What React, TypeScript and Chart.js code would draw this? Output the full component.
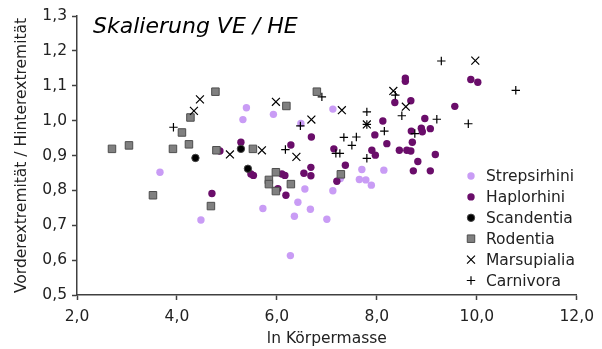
import React, { useEffect, useRef } from 'react';
import { Chart, registerables } from 'chart.js';

Chart.register(...registerables);

const FONT = '"DejaVu Sans", Verdana, sans-serif';

// [ln Körpermasse, VE/HE]
const strepsirhini: [number, number][] = [
  [3.66, 0.852], [4.48, 0.715], [5.39, 1.037], [5.32, 1.003], [5.93, 1.018], [6.48, 0.992],
  [7.12, 1.033], [5.72, 0.748], [6.35, 0.726], [6.27, 0.613], [6.42, 0.766], [6.67, 0.746],
  [6.56, 0.804], [7.0, 0.717], [7.12, 0.799], [7.27, 0.834], [7.7, 0.86], [7.65, 0.831],
  [7.78, 0.83], [7.89, 0.815], [8.14, 0.858],
];
const haplorhini: [number, number][] = [
  [5.28, 0.938], [4.86, 0.913], [4.7, 0.791], [5.48, 0.847], [5.53, 0.843], [6.28, 0.93],
  [6.69, 0.953], [6.1, 0.847], [6.16, 0.843], [6.02, 0.805], [6.18, 0.786], [6.54, 0.849],
  [6.68, 0.866], [6.68, 0.842], [7.14, 0.919], [7.37, 0.872], [7.2, 0.826], [7.96, 0.959],
  [8.12, 0.999], [7.9, 0.915], [7.97, 0.901], [8.2, 0.934], [8.45, 0.915], [8.6, 0.915],
  [8.68, 0.913], [8.36, 1.052], [8.57, 1.113], [8.57, 1.122], [8.68, 1.057], [8.96, 1.006],
  [9.56, 1.041], [9.88, 1.118], [10.02, 1.11], [8.69, 0.97], [8.89, 0.978], [8.91, 0.968],
  [9.07, 0.977], [8.71, 0.938], [9.17, 0.903], [8.82, 0.883], [8.73, 0.856], [9.07, 0.856],
];
const scandentia: [number, number][] = [
  [4.37, 0.893], [5.28, 0.919], [5.42, 0.862],
];
const rodentia: [number, number][] = [
  [2.7, 0.919], [3.04, 0.929], [3.92, 0.919], [4.1, 0.966], [4.24, 0.932], [4.27, 1.009],
  [4.77, 1.083], [4.79, 0.915], [3.52, 0.786], [4.68, 0.755], [5.52, 0.919], [6.19, 1.042],
  [6.8, 1.083], [5.98, 0.852], [5.84, 0.83], [5.84, 0.818], [5.98, 0.798], [6.28, 0.818],
  [7.28, 0.846],
];
const marsupialia: [number, number][] = [
  [4.46, 1.061], [4.34, 1.028], [5.06, 0.903], [5.7, 0.915], [5.98, 1.054], [6.69, 1.003],
  [6.39, 0.896], [7.3, 1.03], [7.8, 0.989], [8.33, 1.085], [8.58, 1.04], [9.97, 1.172],
];
const carnivora: [number, number][] = [
  [3.93, 0.981], [6.17, 0.917], [6.47, 0.985], [6.9, 1.068], [7.34, 0.952], [7.59, 0.953],
  [7.5, 0.929], [7.18, 0.906], [7.26, 0.906], [7.8, 1.025], [8.15, 0.97], [7.8, 0.892],
  [8.37, 1.073], [8.5, 1.014], [9.29, 1.171], [10.78, 1.087], [9.2, 1.004], [9.83, 0.991],
  [8.76, 0.963], [7.8, 0.989],
];

const seriesNames = ['Strepsirhini', 'Haplorhini', 'Scandentia', 'Rodentia', 'Marsupialia', 'Carnivora'];
const seriesData = [strepsirhini, haplorhini, scandentia, rodentia, marsupialia, carnivora];

const chartTitle = 'Skalierung VE / HE';
const xTitle = 'ln Körpermasse';
const yTitle = 'Vorderextremität / Hinterextremität';
const xMin = 2, xMax = 12, xStep = 2;
const yMin = 0.5, yMax = 1.3, yStep = 0.1;

type MStyle = { pointStyle: string; radius: number; bg: string; border: string; bw: number };
const markerStyles: MStyle[] = [
  { pointStyle: 'circle', radius: 3.7, bg: '#c99cf5', border: '#c99cf5', bw: 0 },
  { pointStyle: 'circle', radius: 3.7, bg: '#6a0d6a', border: '#6a0d6a', bw: 0 },
  { pointStyle: 'circle', radius: 3.7, bg: '#000000', border: '#444444', bw: 1 },
  { pointStyle: 'rect', radius: 5.3, bg: '#808080', border: '#4d4d4d', bw: 1 },
  { pointStyle: 'crossRot', radius: 5.6, bg: '#000000', border: '#000000', bw: 1.2 },
  { pointStyle: 'cross', radius: 4.2, bg: '#000000', border: '#000000', bw: 1.2 },
];

function drawMarker(ctx: CanvasRenderingContext2D, s: MStyle, x: number, y: number) {
  ctx.save();
  ctx.fillStyle = s.bg;
  ctx.strokeStyle = s.border;
  ctx.lineWidth = s.bw || 1;
  const r = s.radius;
  ctx.beginPath();
  if (s.pointStyle === 'circle') {
    ctx.arc(x, y, r, 0, Math.PI * 2);
    ctx.fill();
    if (s.bw) ctx.stroke();
  } else if (s.pointStyle === 'rect') {
    const h = r * Math.SQRT1_2;
    ctx.rect(x - h, y - h, 2 * h, 2 * h);
    ctx.fill();
    if (s.bw) ctx.stroke();
  } else if (s.pointStyle === 'crossRot') {
    const d = r * Math.SQRT1_2;
    ctx.moveTo(x - d, y - d); ctx.lineTo(x + d, y + d);
    ctx.moveTo(x - d, y + d); ctx.lineTo(x + d, y - d);
    ctx.stroke();
  } else {
    ctx.moveTo(x - r, y); ctx.lineTo(x + r, y);
    ctx.moveTo(x, y - r); ctx.lineTo(x, y + r);
    ctx.stroke();
  }
  ctx.restore();
}

const overlayPlugin = {
  id: 'overlay',
  afterDraw(chart: any) {
    const ctx: CanvasRenderingContext2D = chart.ctx;
    ctx.save();
    ctx.fillStyle = '#000000';
    ctx.font = `italic 22px ${FONT}`;
    ctx.textAlign = 'left';
    ctx.textBaseline = 'alphabetic';
    ctx.fillText(chartTitle, 93, 33);

    ctx.font = `15.5px ${FONT}`;
    ctx.textBaseline = 'middle';
    ctx.fillStyle = '#222222';
    seriesNames.forEach((name, i) => {
      const y = 176 + i * 20.9;
      drawMarker(ctx, markerStyles[i], 471, y);
      ctx.fillStyle = '#222222';
      ctx.fillText(name, 486, y + 1);
    });
    ctx.restore();
  },
};

const fmt = (v: any) => Number(v).toFixed(1).replace('.', ',');

export default function App() {
  const ref = useRef<HTMLCanvasElement | null>(null);
  useEffect(() => {
    if (!ref.current) return;
    const axisColor = '#404040';
    const chart = new Chart(ref.current, {
      type: 'scatter',
      data: {
        datasets: seriesData.map((d, i) => ({
          label: seriesNames[i],
          data: d.map(([x, y]) => ({ x, y })),
          order: seriesData.length - i,
          pointStyle: markerStyles[i].pointStyle as any,
          pointRadius: markerStyles[i].radius,
          pointHoverRadius: markerStyles[i].radius,
          pointBackgroundColor: markerStyles[i].bg,
          pointBorderColor: markerStyles[i].border,
          pointBorderWidth: markerStyles[i].bw,
          showLine: false,
        })),
      },
      options: {
        animation: false,
        responsive: false,
        devicePixelRatio: 1,
        layout: { padding: { top: 16, right: 25, left: 0, bottom: 0 } },
        plugins: {
          legend: { display: false },
          tooltip: { enabled: false },
          title: { display: false },
        },
        scales: {
          x: {
            type: 'linear',
            min: xMin,
            max: xMax,
            afterFit: (s: any) => { s.height = 54; },
            ticks: {
              stepSize: xStep,
              callback: fmt,
              font: { family: FONT, size: 15.5 },
              color: '#222222',
              padding: 8,
              maxRotation: 0,
            },
            grid: { drawOnChartArea: false, drawTicks: true, tickLength: 5, tickColor: axisColor, tickWidth: 1.5 },
            border: { display: true, color: axisColor, width: 1.5 },
            title: {
              display: true,
              text: xTitle,
              font: { family: FONT, size: 15.5 },
              color: '#222222',
              padding: { top: 0, bottom: 1 },
            },
          },
          y: {
            type: 'linear',
            min: yMin,
            max: yMax,
            afterFit: (s: any) => { s.width = 77; },
            ticks: {
              stepSize: yStep,
              callback: fmt,
              font: { family: FONT, size: 15.5 },
              color: '#222222',
              padding: 5,
            },
            grid: { drawOnChartArea: false, drawTicks: true, tickLength: 5, tickColor: axisColor, tickWidth: 1.5 },
            border: { display: true, color: axisColor, width: 1.5 },
            title: {
              display: true,
              text: yTitle,
              font: { family: FONT, size: 15.5 },
              color: '#222222',
              padding: { top: 13, bottom: 0 },
            },
          },
        },
      },
      plugins: [overlayPlugin],
    } as any);
    return () => chart.destroy();
  }, []);

  return (
    <div style={{ position: 'absolute', left: 0, top: 0, width: 602, height: 349, background: '#ffffff' }}>
      <canvas ref={ref} width={602} height={349} style={{ display: 'block', width: 602, height: 349 }} />
    </div>
  );
}
